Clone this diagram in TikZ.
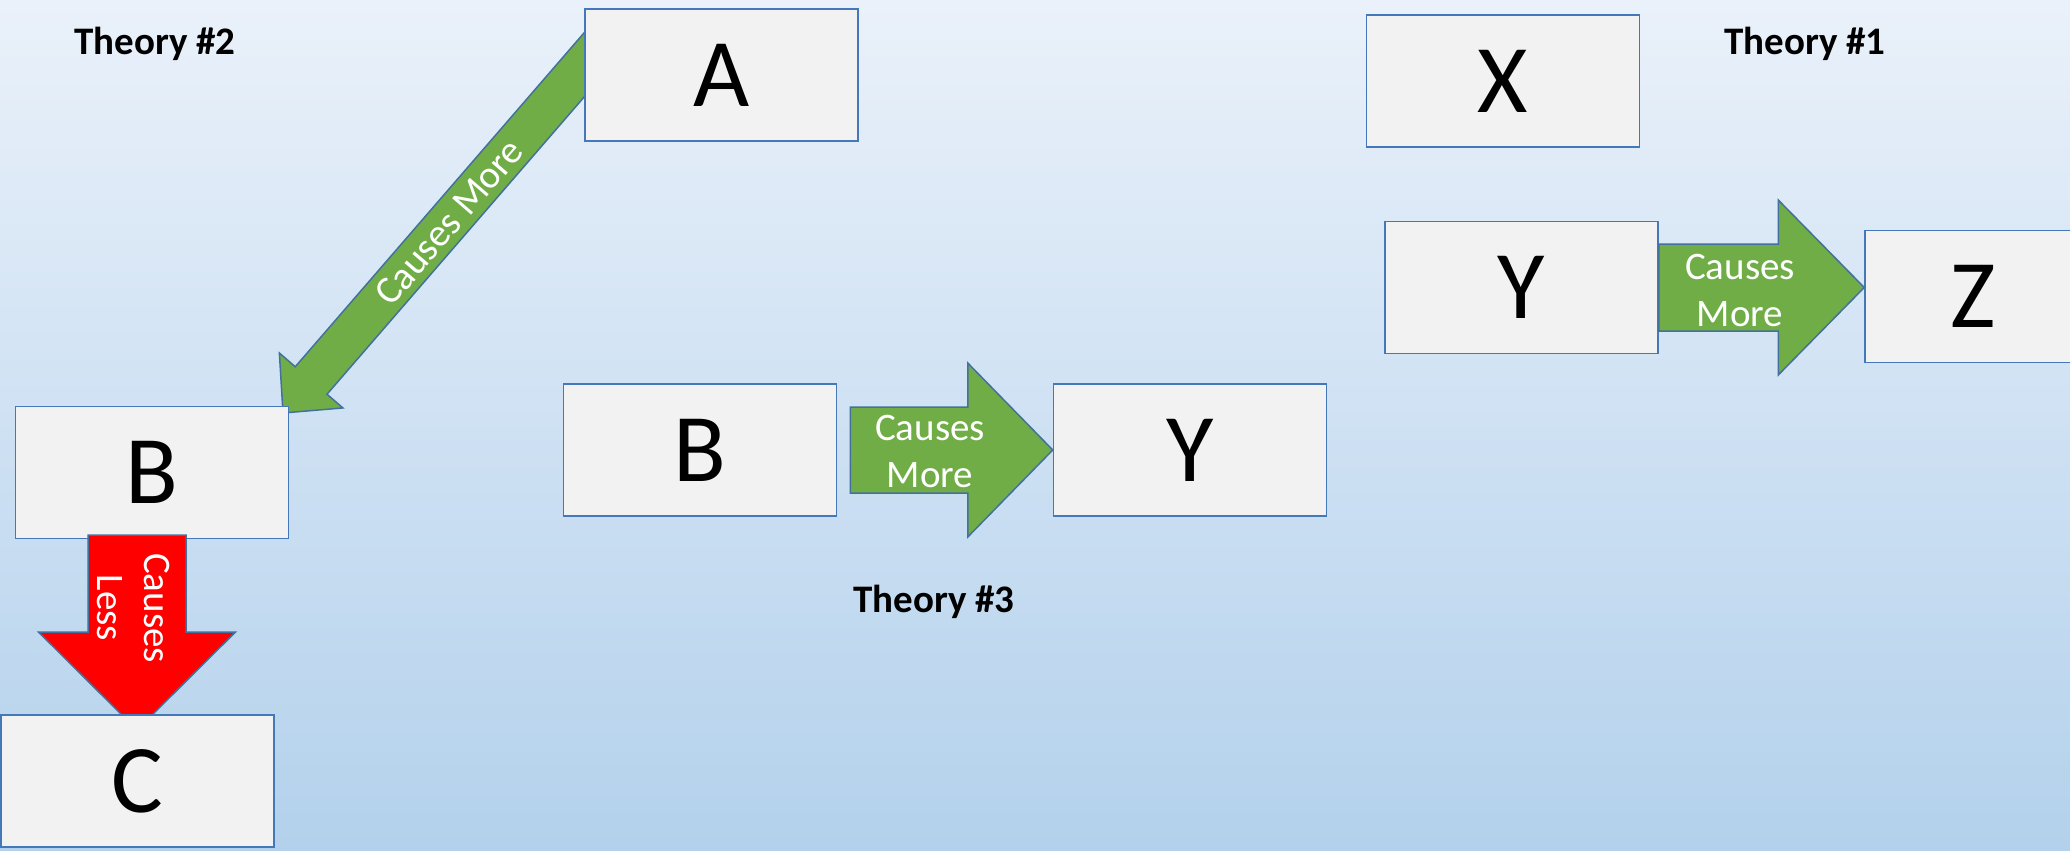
\documentclass[tikz,border=0pt]{standalone}
\usepackage{fontspec}
\setmainfont{Carlito}
\usetikzlibrary{calc}
\definecolor{bgtop}{HTML}{EAF1FA}
\definecolor{bgbot}{HTML}{B3D1EC}
\definecolor{boxfill}{HTML}{F2F2F2}
\definecolor{boxline}{HTML}{4478B8}
\definecolor{agreen}{HTML}{70AD47}
\definecolor{aline}{HTML}{41719C}
\definecolor{ared}{HTML}{FF0000}
% #1 style, #2 tail centre, #3 tip, #4 shaft half width, #5 head half width, #6 head length
\newcommand{\myblockarrow}[6]{%
  \coordinate (hb) at ($(#3)!#6!(#2)$);
  \draw[#1] ($(#2)!#4!90:(#3)$) -- ($(hb)!#4!-90:(#2)$) -- ($(hb)!#5!-90:(#2)$)
    -- (#3) -- ($(hb)!#5!90:(#2)$) -- ($(hb)!#4!90:(#2)$) -- ($(#2)!#4!-90:(#3)$) -- cycle;
}
\begin{document}
\begin{tikzpicture}[x=1pt,y=-1pt,
  box/.style={draw=boxline, line width=1.5pt, fill=boxfill, minimum width=273pt,
    minimum height=132pt, inner sep=0pt, font=\fontsize{97}{116}\selectfont},
  bigletter/.style={inner sep=0pt, font=\fontsize{97}{116}\selectfont},
  greenarrow/.style={draw=aline, line width=1.5pt, fill=agreen, line join=miter},
  redarrow/.style={draw=aline, line width=1.5pt, fill=ared, line join=miter},
  arrowtext/.style={text=white, align=center, inner sep=0pt, font=\fontsize{39}{47}\selectfont},
  theory/.style={anchor=base, inner sep=0pt, font=\bfseries\fontsize{39}{47}\selectfont}]
\useasboundingbox (0,0) rectangle (2070,851);
\shade[top color=bgtop, bottom color=bgbot] (0,0) rectangle (2070,851);

% Theory #2
\coordinate (atail) at (610,35);
\coordinate (atip) at (283,413);
\myblockarrow{greenarrow}{atail}{atip}{21pt}{42pt}{43pt}
\node[box] (A) at (721.5,75) {A};
\node[box] (B1) at (152,472.5) {B};
\coordinate (rtail) at (137,535);
\coordinate (rtip) at (137,730);
\myblockarrow{redarrow}{rtail}{rtip}{49pt}{98.5pt}{98pt}
\node[box] (C) at (137.5,781) {C};
\node[arrowtext, rotate=49.2] (l1) at (449,222) {Causes More};
\node[arrowtext, rotate=-90] (l2) at (134,608) {Causes\\Less};
\node[theory] (t2) at (155,55) {Theory \#2};

% Theory #3
\node[box] (B2) at (700,450) {B};
\node[box] (Y2) at (1190,450) {Y};
\coordinate (mtail) at ($(B2.east)+(13,0)$);
\myblockarrow{greenarrow}{mtail}{Y2.west}{43pt}{87pt}{85pt}
\node[arrowtext] (l3) at (930,451) {Causes\\More};
\node[theory] (t3) at (934,612) {Theory \#3};

% Theory #1
\node[box] (X) at (1503,81) {X};
\node[box] (Y1) at (1521.5,287.5) {Y};
\node[box] (Z) at (2001.5,296.5) {};
\node[bigletter] (zl) at (1973,296.5) {Z};
\coordinate (ztip) at (Z.west |- Y1.east);
\myblockarrow{greenarrow}{Y1.east}{ztip}{43.5pt}{87.5pt}{86pt}
\node[arrowtext] (l4) at (1740,290) {Causes\\More};
\node[theory] (t1) at (1805,55) {Theory \#1};
\end{tikzpicture}
\end{document}
